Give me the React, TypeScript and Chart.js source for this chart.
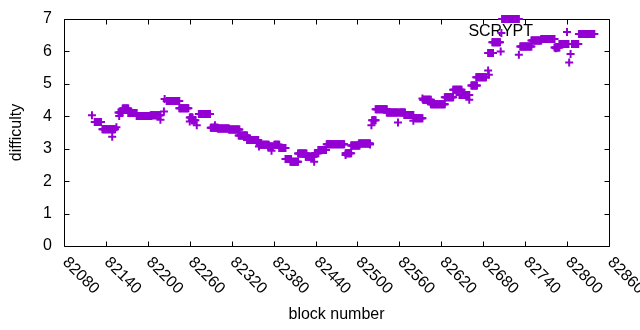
import React, { useEffect, useRef } from "react";
import { Chart, registerables } from "chart.js";

Chart.register(...registerables);

// Runs of consecutive SCRYPT blocks that share (about) the same difficulty
const clusterStart = [82124, 82135, 82158, 82164, 82172, 82184, 82204, 82227, 82245, 82260, 82263, 82273, 82290, 82300, 82316, 82330, 82342, 82360, 82372, 82381, 82388, 82397, 82404, 82415, 82426, 82439, 82444, 82456, 82483, 82491, 82502, 82521, 82526, 82542, 82560, 82567, 82582, 82594, 82605, 82625, 82637, 82646, 82663, 82670, 82687, 82693, 82707, 82733, 82749, 82763, 82782, 82789, 82807, 82817];
const clusterEnd = [82133, 82153, 82164, 82172, 82184, 82205, 82218, 82245, 82258, 82264, 82268, 82289, 82300, 82316, 82331, 82342, 82358, 82373, 82379, 82388, 82397, 82405, 82415, 82427, 82437, 82444, 82455, 82481, 82491, 82503, 82518, 82526, 82542, 82558, 82568, 82580, 82593, 82605, 82625, 82637, 82649, 82660, 82671, 82684, 82694, 82704, 82731, 82749, 82763, 82782, 82789, 82802, 82816, 82839];
const clusterDiff = [3.82, 3.6, 4.12, 4.24, 4.1, 4.01, 4.03, 4.47, 4.25, 3.96, 3.88, 4.07, 3.65, 3.62, 3.59, 3.41, 3.27, 3.12, 3.07, 3.12, 3.02, 2.68, 2.6, 2.85, 2.75, 2.86, 2.96, 3.14, 2.86, 3.1, 3.16, 3.88, 4.22, 4.12, 4.12, 4.04, 3.94, 4.51, 4.37, 4.59, 4.82, 4.66, 4.95, 5.2, 5.95, 6.28, 7.0, 6.15, 6.34, 6.38, 6.12, 6.23, 6.23, 6.54];

// Isolated blocks
const singleBlock = [82120, 82149, 82155, 82159, 82218, 82223, 82224, 82260, 82270, 82296, 82359, 82377, 82438, 82483, 82518, 82520, 82558, 82580, 82593, 82660, 82687, 82688, 82705, 82706, 82731, 82784, 82805, 82803];
const singleDiff = [4.03, 3.37, 3.66, 4.01, 3.89, 4.15, 4.53, 3.84, 3.72, 3.72, 3.07, 2.94, 2.6, 2.81, 3.13, 3.72, 3.81, 3.86, 4.55, 4.51, 5.41, 5.28, 6.0, 6.57, 5.9, 6.1, 5.92, 5.66];

const xTicks = [82080, 82140, 82200, 82260, 82320, 82380, 82440, 82500, 82560, 82620, 82680, 82740, 82800, 82860];
const yTicks = [0, 1, 2, 3, 4, 5, 6, 7];

const seriesName = "SCRYPT";
const xTitle = "block number";
const yTitle = "difficulty";
const color = "#9400d3";
const FONT = '16px "Liberation Sans", Arial, sans-serif';

export default function App() {
  const ref = useRef<HTMLCanvasElement>(null);

  useEffect(() => {
    const points: { x: number; y: number }[] = [];
    clusterStart.forEach((s, i) => {
      for (let b = s; b <= clusterEnd[i]; b++) points.push({ x: b, y: clusterDiff[i] });
    });
    singleBlock.forEach((b, i) => points.push({ x: b, y: singleDiff[i] }));

    const drawCross = (ctx: CanvasRenderingContext2D, cx: number, cy: number) => {
      ctx.beginPath();
      ctx.moveTo(cx - 4, cy);
      ctx.lineTo(cx + 4, cy);
      ctx.moveTo(cx, cy - 4);
      ctx.lineTo(cx, cy + 4);
      ctx.stroke();
    };

    const gp = {
      id: "gnuplotFrame",
      beforeDatasetsDraw(chart: any) {
        const { ctx, chartArea: a, scales } = chart;
        const xs = scales.x;
        const ys = scales.y;
        ctx.save();
        ctx.strokeStyle = "#000";
        ctx.lineWidth = 1;
        const L = Math.round(a.left) + 0.5;
        const R = Math.round(a.right) + 0.5;
        const T = Math.round(a.top) + 0.5;
        const B = Math.round(a.bottom) + 0.5;
        ctx.beginPath();
        ctx.rect(L, T, R - L, B - T);
        ctx.stroke();
        const tl = 5;
        ctx.beginPath();
        xTicks.forEach((v) => {
          const px = Math.round(xs.getPixelForValue(v)) + 0.5;
          ctx.moveTo(px, B);
          ctx.lineTo(px, B - tl);
          ctx.moveTo(px, T);
          ctx.lineTo(px, T + tl);
        });
        yTicks.forEach((v) => {
          const py = Math.round(ys.getPixelForValue(v)) + 0.5;
          ctx.moveTo(L, py);
          ctx.lineTo(L + tl, py);
          ctx.moveTo(R, py);
          ctx.lineTo(R - tl, py);
        });
        ctx.stroke();

        ctx.fillStyle = "#000";
        ctx.font = FONT;
        // y tick labels
        ctx.textAlign = "right";
        ctx.textBaseline = "middle";
        yTicks.forEach((v) => {
          ctx.fillText(String(v), a.left - 12, ys.getPixelForValue(v));
        });
        // x tick labels rotated
        ctx.textAlign = "left";
        xTicks.forEach((v) => {
          const px = xs.getPixelForValue(v);
          ctx.save();
          ctx.translate(px + 1, a.bottom + 14);
          ctx.rotate(Math.PI / 4);
          ctx.fillText(String(v), 0, 0);
          ctx.restore();
        });
        // axis titles
        ctx.textAlign = "center";
        ctx.fillText(xTitle, (a.left + a.right) / 2, 315);
        ctx.save();
        ctx.translate(17, (a.top + a.bottom) / 2);
        ctx.rotate(-Math.PI / 2);
        ctx.fillText(yTitle, 0, 0);
        ctx.restore();
        // key
        ctx.textAlign = "right";
        ctx.fillStyle = "#000";
        ctx.fillText(seriesName, 533, 32);
        ctx.strokeStyle = color;
        ctx.lineWidth = 2;
        drawCross(ctx, 567, 32);
        ctx.restore();
      },
    };

    const chart = new Chart(ref.current as HTMLCanvasElement, {
      type: "scatter",
      data: {
        datasets: [
          {
            label: seriesName,
            data: points,
            pointStyle: "cross",
            pointRadius: 4,
            pointBorderWidth: 2,
            borderColor: color,
            backgroundColor: color,
            clip: false as any,
          } as any,
        ],
      },
      options: {
        animation: false,
        responsive: false,
        layout: { padding: { left: 64, right: 31, top: 19, bottom: 84 } },
        scales: {
          x: { type: "linear", min: 82080, max: 82860, display: false },
          y: { min: 0, max: 7, display: false },
        },
        plugins: { legend: { display: false }, tooltip: { enabled: false } },
      },
      plugins: [gp],
    });
    return () => chart.destroy();
  }, []);

  return (
    <div style={{ position: "fixed", left: 0, top: 0, width: 640, height: 330, background: "#fff" }}>
      <canvas ref={ref} width={640} height={330} style={{ display: "block" }} />
    </div>
  );
}
